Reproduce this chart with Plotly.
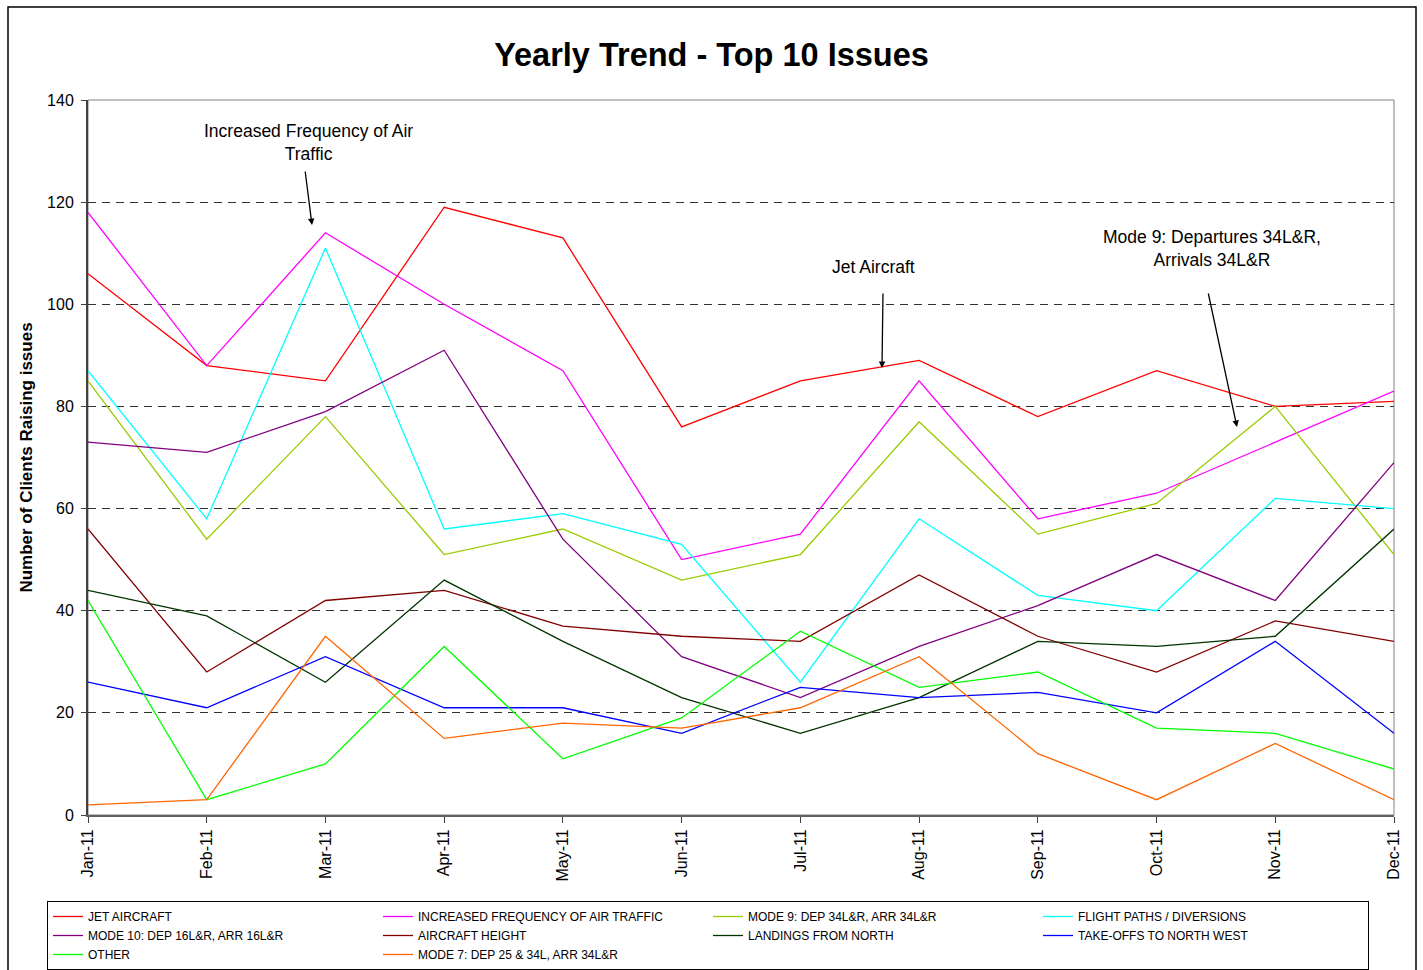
import plotly.graph_objects as go

months = ["Jan-11", "Feb-11", "Mar-11", "Apr-11", "May-11", "Jun-11",
          "Jul-11", "Aug-11", "Sep-11", "Oct-11", "Nov-11", "Dec-11"]

jet_aircraft = [106, 88, 85, 119, 113, 76, 85, 89, 78, 87, 80, 81]
increased_frequency = [118, 88, 114, 100, 87, 50, 55, 85, 58, 63, 73, 83]
mode9 = [85, 54, 78, 51, 56, 46, 51, 77, 55, 61, 80, 51]
flight_paths = [87, 58, 111, 56, 59, 53, 26, 58, 43, 40, 62, 60]
mode10 = [73, 71, 79, 91, 54, 31, 23, 33, 41, 51, 42, 69]
aircraft_height = [56, 28, 42, 44, 37, 35, 34, 47, 35, 28, 38, 34]
landings_north = [44, 39, 26, 46, 34, 23, 16, 23, 34, 33, 35, 56]
takeoffs_nw = [26, 21, 31, 21, 21, 16, 25, 23, 24, 20, 34, 16]
other = [42, 3, 10, 33, 11, 19, 36, 25, 28, 17, 16, 9]
mode7 = [2, 3, 35, 15, 18, 17, 21, 31, 12, 3, 14, 3]

series = [
    ("JET AIRCRAFT", jet_aircraft, "#FF0000"),
    ("INCREASED FREQUENCY OF AIR TRAFFIC", increased_frequency, "#FF00FF"),
    ("MODE 9: DEP 34L&R, ARR 34L&R", mode9, "#99CC00"),
    ("FLIGHT PATHS / DIVERSIONS", flight_paths, "#00FFFF"),
    ("MODE 10: DEP 16L&R, ARR 16L&R", mode10, "#800080"),
    ("AIRCRAFT HEIGHT", aircraft_height, "#800000"),
    ("LANDINGS FROM NORTH", landings_north, "#003300"),
    ("TAKE-OFFS TO NORTH WEST", takeoffs_nw, "#0000FF"),
    ("OTHER", other, "#00FF00"),
    ("MODE 7: DEP 25 & 34L, ARR 34L&R", mode7, "#FF6600"),
]

fig = go.Figure()
for name, vals, col in series:
    fig.add_trace(go.Scatter(
        x=months, y=vals, name=name, mode="lines",
        line=dict(color=col, width=1.3),
    ))

font_main = "Liberation Sans, Arial, sans-serif"

fig.update_layout(
    width=1423, height=970,
    paper_bgcolor="white", plot_bgcolor="white",
    margin=dict(l=88, r=29, t=100, b=155, autoexpand=False),
    title=dict(text="<b>Yearly Trend - Top 10 Issues</b>",
               font=dict(family=font_main, size=32.5, color="black"),
               x=0.5, xanchor="center", y=1 - 55 / 970, yanchor="middle"),
    font=dict(family=font_main, color="black"),
    showlegend=True,
    legend=dict(
        orientation="h",
        x=(47 - 88) / 1306, xanchor="left",
        y=-(901 - 815) / 715, yanchor="top",
        bordercolor="black", borderwidth=1,
        font=dict(family=font_main, size=12, color="black"),
        entrywidth=285, entrywidthmode="pixels",
        itemwidth=30,
        traceorder="normal",
    ),
    xaxis=dict(
        type="category", range=[0, 11],
        tickangle=-90,
        tickfont=dict(family=font_main, size=16, color="black"),
        ticks="outside", ticklen=6, tickcolor="#404040", tickwidth=1,
        showline=True, linecolor="#606060", linewidth=2,
        showgrid=False, zeroline=False,
    ),
    yaxis=dict(
        range=[0, 140], dtick=20,
        tickfont=dict(family=font_main, size=16, color="black"),
        ticks="outside", ticklen=5, tickcolor="#404040", tickwidth=1,
        ticklabelstandoff=4,
        showline=True, linecolor="#404040", linewidth=2,
        showgrid=True, gridcolor="#333333", gridwidth=1, griddash="8px,6px",
        zeroline=False,
        title=dict(text="<b>Number of Clients Raising issues</b>",
                   font=dict(family=font_main, size=17, color="black"),
                   standoff=10),
    ),
)

# plot area border (top/right gray)
fig.add_shape(type="rect", xref="paper", yref="paper", x0=0, x1=1, y0=0, y1=1,
              line=dict(color="#808080", width=1), layer="below")
# outer chart border
fig.add_shape(type="rect", xref="paper", yref="paper",
              x0=(8 - 88) / 1306, x1=(1416 - 88) / 1306,
              y0=(815 - 975) / 715, y1=(815 - 7) / 715,
              line=dict(color="black", width=1.5))

ann_font = dict(family=font_main, size=17.5, color="black")
px_per_idx = 1306 / 11
px_per_val = 715 / 140

def idx(px):
    return (px - 88) / px_per_idx

def val(py):
    return (815 - py) / px_per_val

texts = [
    ("Increased Frequency of Air<br>Traffic", 308, 142),
    ("Jet Aircraft", 873, 267),
    ("Mode 9: Departures 34L&R,<br>Arrivals 34L&R", 1212, 248.5),
]
for t, px, py in texts:
    fig.add_annotation(x=idx(px), y=val(py), xref="x", yref="y", text=t,
                       showarrow=False, font=ann_font, align="center",
                       xanchor="center", yanchor="middle")

arrows = [
    ((305, 170), (312, 225)),
    ((883, 292), (882, 368)),
    ((1208, 292), (1237, 427)),
]
for (tx, ty), (hx, hy) in arrows:
    fig.add_annotation(x=idx(hx), y=val(hy), xref="x", yref="y", text="",
                       showarrow=True, arrowhead=2, arrowsize=1, arrowwidth=1.3,
                       arrowcolor="black", ax=tx - hx, ay=ty - hy,
                       axref="pixel", ayref="pixel", standoff=0, startstandoff=0)

fig.write_html("out.html")
